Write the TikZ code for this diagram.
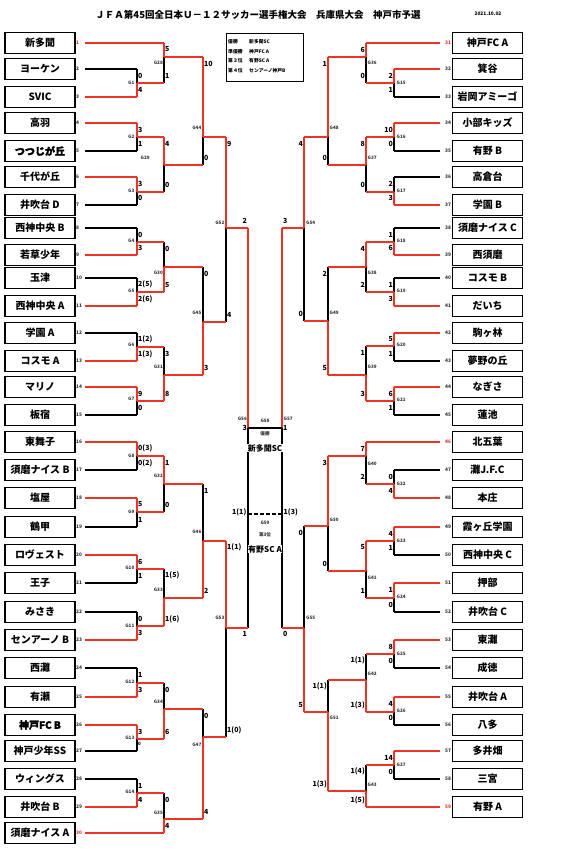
\documentclass[tikz,border=0pt]{standalone}
\usepackage{fontspec}
\setmainfont{Noto Sans CJK JP}
\newfontfamily\heavyfont{Noto Sans CJK JP}[FakeBold=2]
\usetikzlibrary{positioning}
\definecolor{winred}{RGB}{238,50,36}
\definecolor{gnum}{RGB}{50,50,60}

\begin{document}
\begin{tikzpicture}[x=1pt, y=-1pt,
  every node/.style={inner sep=0.5pt},
  team/.style={draw, line width=1.2pt, minimum width=70pt, minimum height=21pt, font=\fontsize{10}{10}\selectfont\bfseries},
  num/.style={font=\fontsize{4.8}{5}\selectfont\bfseries, anchor=west},
  score/.style={font=\fontsize{7}{7}\selectfont\bfseries},
  glabel/.style={font=\fontsize{4.6}{5}\selectfont\bfseries, text=gnum},
  legend/.style={font=\fontsize{4.8}{5}\selectfont\bfseries, anchor=west},
  win/.style={draw=winred, line width=1.2pt},
  lose/.style={draw=black, line width=1.1pt},
]
  \path[fill=white] (0,0) rectangle (570,854);
  \useasboundingbox (0,0) rectangle (570,854);

  % title
  \node[font=\fontsize{9.5}{10}\selectfont\bfseries] (title) at (258,15) {ＪＦＡ第45回全日本Ｕ－１２サッカー選手権大会　兵庫県大会　神戸市予選};
  \node[font=\fontsize{4.8}{5}\selectfont\bfseries] (date) at (488,14) {2021.10.02};

  % result box
  \node[draw, line width=0.8pt, minimum width=77pt, minimum height=48pt, anchor=north west] (res) at (226,33) {};
  \foreach \k/\y/\lab/\team in {1/42/優勝/新多聞SC, 2/51.5/準優勝/神戸FC A, 3/61/第３位/有野SC A, 4/70.5/第４位/センアーノ神戸B} {
    \node[legend] (resl\k) at (227.5,\y) {\lab};
    \node[legend] (rest\k) at (248.5,\y) {\team};
  }

  % teams, left
  \foreach \i/\y/\col/\name in {1/43/winred/新多聞, 2/69/gnum/ヨーケン, 3/97/gnum/SVIC, 4/123/gnum/高羽,
      5/151/gnum/{\heavyfont つつじが丘}, 6/177/gnum/千代が丘, 7/205/gnum/井吹台 D, 8/228/gnum/西神中央 B,
      9/255/gnum/若草少年, 10/278/gnum/玉津, 11/306/gnum/西神中央 A, 12/333/gnum/学園 A, 13/361/gnum/コスモ A,
      14/387/gnum/マリノ, 15/415/gnum/板宿, 16/442/gnum/東舞子, 17/470/gnum/須磨ナイス B, 18/498/gnum/塩屋,
      19/527/gnum/鶴甲, 20/555/gnum/ロヴェスト, 21/583/gnum/王子, 22/612/gnum/みさき, 23/640/gnum/センアーノ B,
      24/668/gnum/西灘, 25/697/gnum/有瀬, 26/725/gnum/{\heavyfont 神戸FC B}, 27/751/gnum/神戸少年SS,
      28/779/gnum/ウィングス, 29/807/gnum/井吹台 B, 30/833/winred/須磨ナイス A} {
    \node[team] (t\i) at (40,\y) {\name};
    \node[num, text=\col] (n\i) at (75.5,\y) {\i};
    \coordinate (s\i) at (85,\y);
  }

  % teams, right
  \foreach \i/\y/\col/\name in {31/43/winred/神戸FC A, 32/69/gnum/箕谷, 33/97/gnum/岩岡アミーゴ, 34/123/gnum/小部キッズ,
      35/151/gnum/有野 B, 36/177/gnum/高倉台, 37/205/gnum/学園 B, 38/228/gnum/須磨ナイス C, 39/255/gnum/西須磨,
      40/278/gnum/コスモ B, 41/306/gnum/だいち, 42/333/gnum/駒ヶ林, 43/361/gnum/夢野の丘, 44/387/gnum/なぎさ,
      45/415/gnum/蓮池, 46/442/winred/北五葉, 47/470/gnum/灘J.F.C, 48/498/gnum/本庄, 49/527/gnum/霞ヶ丘学園,
      50/555/gnum/西神中央 C, 51/583/gnum/押部, 52/612/gnum/井吹台 C, 53/640/gnum/東灘, 54/668/gnum/成徳,
      55/697/gnum/井吹台 A, 56/725/gnum/八多, 57/751/gnum/多井畑, 58/779/gnum/三宮, 59/807/winred/有野 A} {
    \node[team] (t\i) at (487.5,\y) {\name};
    \node[num, text=\col] (n\i) at (444.5,\y) {\i};
    \coordinate (s\i) at (440,\y);
  }

  % matches: name / x / top in / bottom in / out / winner / scores / side
  \foreach \g/\x/\ya/\yb/\yo/\w/\sa/\sb/\sd in {
      G1/137/69/97/83/2/0/4/1, G2/137/123/151/137/1/3/1/1, G3/137/177/205/192/1/3/0/1,
      G4/137/228/255/242/2/0/3/1, G5/137/278/306/292/2/2(5)/2(6)/1, G6/137/333/361/347/2/1(2)/1(3)/1,
      G7/137/387/415/401/1/9/0/1, G8/137/442/470/456/1/0(3)/0(2)/1, G9/137/498/527/512/1/5/1/1,
      G10/137/555/583/569/1/6/1/1, G11/137/612/640/626/2/0/3/1, G12/137/668/697/683/2/1/3/1,
      G13/137/725/751/739/1/3/{\fontsize{4.5}{5}\selectfont 0}/1, G14/137/779/807/793/2/1/4/1,
      G28/164/43/83/57/1/5/1/1, G29/164/137/192/165/1/4/0/1, G30/164/242/292/267/2/0/5/1,
      G31/164/347/401/375/2/3/8/1, G32/164/456/512/484/1/1/0/1, G33/164/569/626/598/2/1(5)/1(6)/1,
      G34/164/683/739/709/2/0/6/1, G35/164/793/833/819/2/0/4/1,
      G44/203/57/165/137/1/10/0/1, G45/203/267/375/322/2/0/3/1, G46/203/484/598/541/2/1/2/1,
      G47/203/709/819/737/2/0/4/1,
      G52/226/137/322/228/1/9/4/1, G53/226/541/737/628/1/1(1)/1(0)/1,
      G56/248/228/628/428/1/2/1/0,
      G15/394/69/97/83/1/2/1/2, G16/394/123/151/137/1/10/0/2, G17/394/177/205/192/2/2/3/2,
      G18/394/228/255/242/2/1/6/2, G19/394/278/306/292/2/1/3/2, G20/394/333/361/346/1/5/1/2,
      G21/394/387/415/401/1/6/1/2, G22/394/470/498/484/2/0/4/2, G23/394/527/555/541/1/4/1/2,
      G24/394/583/612/598/1/1/0/2, G25/394/640/668/654/1/8/0/2, G26/394/697/725/712/1/4/0/2,
      G27/394/751/779/765/1/14/0/2,
      G36/366/43/83/57/1/6/0/2, G37/366/137/192/165/1/8/0/2, G38/366/242/292/267/1/4/2/2,
      G39/366/346/401/375/2/1/3/2, G40/366/442/484/456/1/7/2/2, G41/366/541/598/571/1/5/1/2,
      G42/366/654/712/680/2/1(1)/1(3)/2, G43/366/765/807/791/2/1(4)/1(5)/2,
      G48/328/57/165/137/1/1/0/2, G49/328/267/375/321/2/2/5/2, G50/328/456/571/526/1/3/0/2,
      G51/328/680/791/712/2/1(1)/1(3)/2,
      G54/304/137/321/228/1/4/0/2, G55/304/526/712/628/2/0/5/2,
      G57/282/228/628/428/1/3/0/0} {
    \coordinate (\g-t) at (\x,\ya);
    \coordinate (\g-b) at (\x,\yb);
    \coordinate (\g-o) at (\x,\yo);
    \draw[lose] (\g-t) -- (\g-b);
    \ifnum\w=1 \draw[win] (\g-t) -- (\g-o); \else \draw[win] (\g-o) -- (\g-b); \fi
    \ifnum\sd=1
      \node[score, anchor=west] (\g-sa) at (\x+0.5,\ya+6.5) {\sa};
      \node[score, anchor=west] (\g-sb) at (\x+0.5,\yb-7) {\sb};
    \fi
    \ifnum\sd=2
      \node[score, anchor=east] (\g-sa) at (\x-0.5,\ya+6.5) {\sa};
      \node[score, anchor=east] (\g-sb) at (\x-0.5,\yb-7) {\sb};
    \fi
  }

  % match labels
  \foreach \g/\x/\y/\a in {G1/135/83/east, G2/135/137/east, G3/135/191/east, G4/135/241/east,
      G5/135/291/east, G6/135/345/east, G7/135/399/east, G8/135/456/east, G9/135/512/east,
      G10/135/568/east, G11/135/626/east, G12/135/682/east, G13/135/738/east, G14/135/792/east,
      G28/163.5/63/east, G29/140/158/west, G30/163.5/273/east, G31/163.5/367/east,
      G32/163.5/476/east, G33/163.5/590/east, G34/163.5/702/east, G35/163.5/813/east,
      G44/202/128/east, G45/202/313/east, G46/202/532/east, G47/202/745/east,
      G52/225/223/east, G53/225/618/east, G56/247.5/419/east,
      G15/396/83/west, G16/396/137/west, G17/396/191/west, G18/396/241/west, G19/396/291/west,
      G20/396/345/west, G21/396/400/west, G22/396/484/west, G23/396/541/west, G24/396/597/west,
      G25/396/654/west, G26/396/711/west, G27/396/765/west,
      G36/367/63/west, G37/367/158/west, G38/367/273/west, G39/367/367/west,
      G40/367/464/west, G41/367/578/west, G42/367/674/west, G43/367/785/west,
      G48/329/128/west, G49/329/313/west, G50/329/520/west, G51/329/718/west,
      G54/305.5/223/west, G55/305.5/618/west, G57/283/419/west} {
    \node[glabel, anchor=\a] (\g-lab) at (\x,\y) {\g};
  }

  % team lines
  \foreach \i/\m/\s in {1/G28-t/win, 2/G1-t/lose, 3/G1-b/win, 4/G2-t/win, 5/G2-b/lose, 6/G3-t/win,
      7/G3-b/lose, 8/G4-t/lose, 9/G4-b/win, 10/G5-t/lose, 11/G5-b/win, 12/G6-t/lose, 13/G6-b/win,
      14/G7-t/win, 15/G7-b/lose, 16/G8-t/win, 17/G8-b/lose, 18/G9-t/win, 19/G9-b/lose, 20/G10-t/win,
      21/G10-b/lose, 22/G11-t/lose, 23/G11-b/win, 24/G12-t/lose, 25/G12-b/win, 26/G13-t/win,
      27/G13-b/lose, 28/G14-t/lose, 29/G14-b/win, 30/G35-b/win,
      31/G36-t/win, 32/G15-t/win, 33/G15-b/lose, 34/G16-t/win, 35/G16-b/lose, 36/G17-t/lose,
      37/G17-b/win, 38/G18-t/lose, 39/G18-b/win, 40/G19-t/lose, 41/G19-b/win, 42/G20-t/win,
      43/G20-b/lose, 44/G21-t/win, 45/G21-b/lose, 46/G40-t/win, 47/G22-t/lose, 48/G22-b/win,
      49/G23-t/win, 50/G23-b/lose, 51/G24-t/win, 52/G24-b/lose, 53/G25-t/win, 54/G25-b/lose,
      55/G26-t/win, 56/G26-b/lose, 57/G27-t/win, 58/G27-b/lose, 59/G43-b/win} {
    \draw[\s] (s\i) -- (\m);
  }

  % winners move on
  \foreach \src/\dst in {G1/G28-b, G2/G29-t, G3/G29-b, G4/G30-t, G5/G30-b, G6/G31-t, G7/G31-b,
      G8/G32-t, G9/G32-b, G10/G33-t, G11/G33-b, G12/G34-t, G13/G34-b, G14/G35-t,
      G28/G44-t, G29/G44-b, G30/G45-t, G31/G45-b, G32/G46-t, G33/G46-b, G34/G47-t, G35/G47-b,
      G44/G52-t, G45/G52-b, G46/G53-t, G47/G53-b, G52/G56-t, G53/G56-b,
      G15/G36-b, G16/G37-t, G17/G37-b, G18/G38-t, G19/G38-b, G20/G39-t, G21/G39-b, G22/G40-b,
      G23/G41-t, G24/G41-b, G25/G42-t, G26/G42-b, G27/G43-t,
      G36/G48-t, G37/G48-b, G38/G49-t, G39/G49-b, G40/G50-t, G41/G50-b, G42/G51-t, G43/G51-b,
      G48/G54-t, G49/G54-b, G50/G55-t, G51/G55-b, G54/G57-t, G55/G57-b} {
    \draw[win] (\src-o) -- (\dst);
  }

  % final and 3rd place
  \draw[lose] (G56-o) -- (G57-o);
  \coordinate (G59-l) at (248,514);
  \coordinate (G59-r) at (282,514);
  \draw[lose, dash pattern=on 4pt off 2pt] (G59-l) -- (G59-r);

  \node[score, anchor=east] (G56-sa) at (247.5,221) {2};
  \node[score, anchor=east] (G56-sb) at (247.5,634) {1};
  \node[score, anchor=west] (G57-sa) at (282.5,221) {3};
  \node[score, anchor=west] (G57-sb) at (282.5,634) {0};
  \node[score, anchor=east] (G58-sl) at (247.5,428) {3};
  \node[score, anchor=west] (G58-sr) at (282.5,428) {1};
  \node[score, anchor=east] (G59-sl) at (247,512) {1(1)};
  \node[score, anchor=west] (G59-sr) at (283,512) {1(3)};

  \node[glabel] (G58-lab) at (265,421) {G58};
  \node[glabel] (champ) at (265,434) {優勝};
  \node[fill=white, font=\fontsize{8}{8}\selectfont\bfseries] (champname) at (265,448) {新多聞SC};
  \node[glabel] (G59-lab) at (265,523) {G59};
  \node[glabel] (third) at (265,535) {第3位};
  \node[fill=white, font=\fontsize{8}{8}\selectfont\bfseries] (thirdname) at (265,549) {有野SC A};
\end{tikzpicture}
\end{document}
